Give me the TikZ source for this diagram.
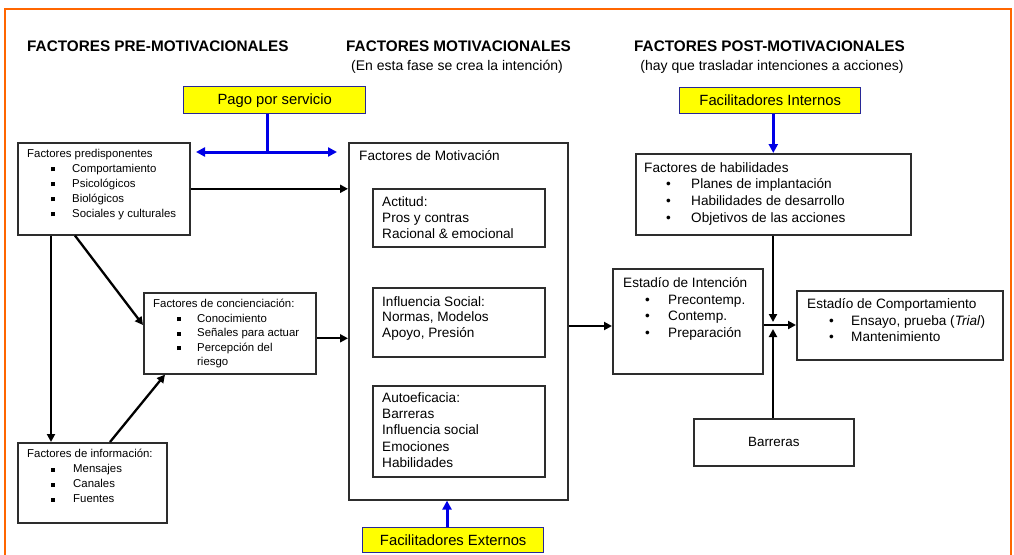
\documentclass[tikz,border=0pt]{standalone}
\usepackage{fontspec}
\setmainfont{Liberation Sans}
\usetikzlibrary{arrows.meta,calc}
\definecolor{frameorange}{RGB}{255,102,0}
\definecolor{boxline}{RGB}{45,45,45}
\definecolor{yelbox}{RGB}{255,255,0}
\definecolor{yelline}{RGB}{40,40,150}
\definecolor{arrblue}{RGB}{0,0,230}
\newcommand\fs[2]{\fontsize{#1}{#2}\selectfont}
\newcommand\sqitem[2][45pt]{\makebox[#1][l]{\hspace{24pt}\rule[1pt]{4pt}{4pt}}#2}
\newcommand\rditem[2][45pt]{\makebox[#1][l]{\hspace{22pt}\textbullet}#2}
\begin{document}
\begin{tikzpicture}[x=1pt,y=-1pt,
  box/.style={draw=boxline,line width=1.6pt,fill=white,inner sep=0pt,anchor=north west},
  ybox/.style={draw=yelline,line width=1.4pt,fill=yelbox,inner sep=0pt,anchor=north west,font=\fs{14.8}{16}},
  txt/.style={anchor=north west,inner sep=0pt,align=left,yshift=-3pt},
  head/.style={anchor=north west,inner sep=0pt,font=\bfseries\fs{15.3}{17}},
  sub/.style={anchor=north,inner sep=0pt,font=\fs{14}{15}},
  arr/.style={line width=2.3pt,draw=black,-{Triangle[length=8pt,width=8pt]}},
  barr/.style={line width=3pt,draw=arrblue,-{Triangle[length=9pt,width=9pt]}},
  bline/.style={line width=3pt,draw=arrblue}]
\useasboundingbox (0,0) rectangle (1014,554);
\fill[white] (0,0) rectangle (1014,554);
\draw[frameorange,line width=2.8pt] (5,560) -- (5,9) -- (1011,9) -- (1011,560);

% headings
\node[head] (h1) at (27,41) {FACTORES PRE-MOTIVACIONALES};
\node[head] (h2) at (346,41) {FACTORES MOTIVACIONALES};
\node[sub] (s2) at (457,60) {(En esta fase se crea la intención)};
\node[head] (h3) at (634,41) {FACTORES POST-MOTIVACIONALES};
\node[sub] (s3) at (772,60) {(hay que trasladar intenciones a acciones)};

% yellow boxes
\node[ybox,minimum width=182pt,minimum height=27pt] (pago) at (183,86) {Pago por servicio};
\node[ybox,minimum width=181pt,minimum height=26pt] (fint) at (679,87) {Facilitadores Internos};
\node[ybox,minimum width=181pt,minimum height=25pt] (fext) at (362,527) {Facilitadores Externos};

% left column
\node[box,minimum width=172pt,minimum height=92pt] (pred) at (17,142) {};
\node[txt,font=\fs{11.4}{15}] (predt) at (27,146) {Factores predisponentes\\
  \sqitem[45pt]{Comportamiento}\\ \sqitem[45pt]{Psicológicos}\\ \sqitem[45pt]{Biológicos}\\ \sqitem[45pt]{Sociales y culturales}};

\node[box,minimum width=172pt,minimum height=81pt] (conc) at (143,292) {};
\node[txt,font=\fs{11.4}{14.5}] (conct) at (153,296) {Factores de concienciación:\\
  \sqitem[44pt]{Conocimiento}\\ \sqitem[44pt]{Señales para actuar}\\ \sqitem[44pt]{Percepción del}\\ \hspace*{44pt}riesgo};

\node[box,minimum width=149pt,minimum height=80pt] (info) at (17,442) {};
\node[txt,font=\fs{11.4}{15}] (infot) at (27,446) {Factores de información:\\
  \sqitem[46pt]{Mensajes}\\ \sqitem[46pt]{Canales}\\ \sqitem[46pt]{Fuentes}};

% motivation
\node[box,minimum width=219pt,minimum height=357pt] (mot) at (348,142) {};
\node[txt,font=\fs{13.6}{16}] (mott) at (359,147) {Factores de Motivación};
\node[box,minimum width=172pt,minimum height=58pt] (act) at (372,188) {};
\node[txt,font=\fs{13.6}{16}] (actt) at (382,193) {Actitud:\\Pros y contras\\Racional \& emocional};
\node[box,minimum width=172pt,minimum height=69pt] (inf) at (372,287) {};
\node[txt,font=\fs{13.6}{15.5}] (inft) at (382,293) {Influencia Social:\\Normas, Modelos\\Apoyo, Presión};
\node[box,minimum width=172pt,minimum height=91pt] (aut) at (372,385) {};
\node[txt,font=\fs{13.6}{16.4}] (autt) at (382,389) {Autoeficacia:\\Barreras\\Influencia social\\Emociones\\Habilidades};

% right side
\node[box,minimum width=275pt,minimum height=81pt] (hab) at (635,153) {};
\node[txt,font=\fs{13.6}{16.8}] (habt) at (644,159) {Factores de habilidades\\
  \rditem[47pt]{Planes de implantación}\\ \rditem[47pt]{Habilidades de desarrollo}\\ \rditem[47pt]{Objetivos de las acciones}};

\node[box,minimum width=150pt,minimum height=105pt] (int) at (612,268) {};
\node[txt,font=\fs{13.6}{16.8}] (intt) at (623,274) {Estadío de Intención\\
  \rditem[45pt]{Precontemp.}\\ \rditem[45pt]{Contemp.}\\ \rditem[45pt]{Preparación}};

\node[box,minimum width=206pt,minimum height=69pt] (comp) at (796,290) {};
\node[txt,font=\fs{13.6}{16.8}] (compt) at (807,295) {Estadío de Comportamiento\\
  \rditem[44pt]{Ensayo, prueba (\textit{Trial})}\\ \rditem[44pt]{Mantenimiento}};

\node[box,minimum width=160pt,minimum height=47pt,font=\fs{13.4}{14}] (bar) at (693,418) {Barreras};

% connectors
\coordinate (pj) at (267,152);
\coordinate (pl) at (196,152);
\coordinate (pr) at (337,152);
\draw[bline] (pj |- pago.south) -- (pj);
\draw[line width=3pt,draw=arrblue,{Triangle[length=9pt,width=9pt]}-{Triangle[length=9pt,width=9pt]}] (pl) -- (pr);
\draw[barr] (hab.north |- fint.south) -- (hab.north);
\coordinate (fe) at (447,0);
\draw[barr] (fe |- fext.north) -- (fe |- mot.south);

\draw[arr] (pred.east) -- (mot.west |- pred.east);
\coordinate (ce) at ([yshift=-5pt]conc.east);
\draw[arr] (ce) -- (mot.west |- ce);
\coordinate (pb1) at (51,0);
\draw[arr] (pb1 |- pred.south) -- (pb1 |- info.north);
\coordinate (pb2) at (75,0);
\coordinate (cl) at (0,325);
\draw[arr] (pb2 |- pred.south) -- (conc.west |- cl);
\coordinate (it) at (110,0);
\coordinate (cb) at (165,0);
\draw[arr] (it |- info.north) -- (cb |- conc.south);

\coordinate (my) at (0,326);
\draw[arr] (mot.east |- my) -- (int.west |- my);
\coordinate (cy) at (0,325);
\draw[arr] (int.east |- cy) -- (comp.west |- cy);
\coordinate (hx) at (773,0);
\coordinate (tipd) at (773,322);
\coordinate (tipu) at (773,329);
\draw[arr] (hx |- hab.south) -- (tipd);
\draw[arr] (hx |- bar.north) -- (tipu);
\end{tikzpicture}
\end{document}
